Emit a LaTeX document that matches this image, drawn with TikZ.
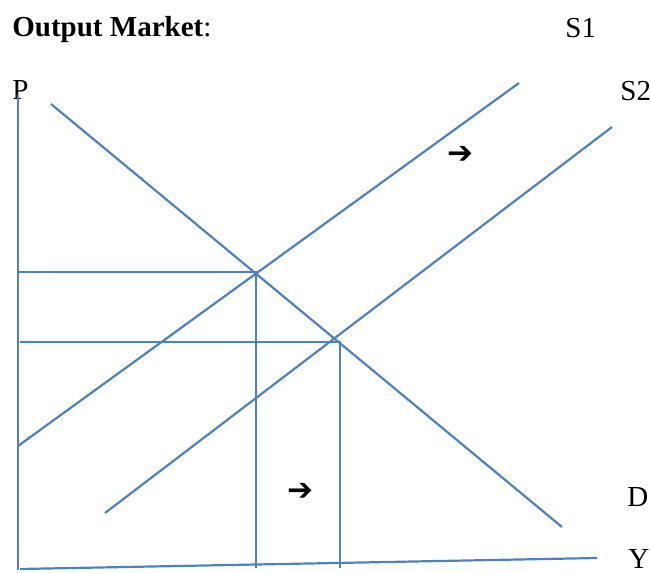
\documentclass[tikz,border=0pt]{standalone}
\usepackage{fontspec}
\setmainfont{Liberation Serif}
\newfontfamily\symfont{DejaVu Sans Bold}

\begin{document}
\begin{tikzpicture}[x=0.5pt, y=-0.5pt,
    curve/.style={line width=1.1pt, draw={rgb,255:red,79;green,129;blue,189}},
    lbl/.style={anchor=base west, inner sep=0pt, font=\fontsize{14.5}{17}\selectfont},
    shiftarrow/.style={inner sep=0pt, font=\symfont\fontsize{15.5}{18}\selectfont}]
    \useasboundingbox (0,0) rectangle (651,572);
    %%% Labels
    \node[lbl] (title) at (12,37) {\textbf{Output Market}:};
    \node[lbl] (s1) at (565,38) {S1};
    \node[lbl] (p) at (12,100) {P};
    \node[lbl] (s2) at (620,101) {S2};
    \node[lbl] (d) at (627,506) {D};
    \node[lbl] (y) at (628,568) {Y};
    %
    %%% Axes
    \draw[curve] (18,95) -- (18,570);
    \draw[curve] (20,569) -- (597,558);
    %
    %%% Demand and supply
    \draw[curve] (51,104) -- (562,527);
    \draw[curve] (18,446) -- (519,83);
    \draw[curve] (105,513) -- (612,127);
    %
    %%% Equilibria
    \coordinate (e1) at (256,272);
    \coordinate (e2) at (340,342);
    \draw[curve] (18,272) -- (e1) -- (256,568);
    \draw[curve] (20,342) -- (e2) -- (340,568);
    %
    %%% Shift arrows
    \node[shiftarrow] (a1) at (460,155) {➔};
    \node[shiftarrow] (a2) at (300,492) {➔};
\end{tikzpicture}
\end{document}
